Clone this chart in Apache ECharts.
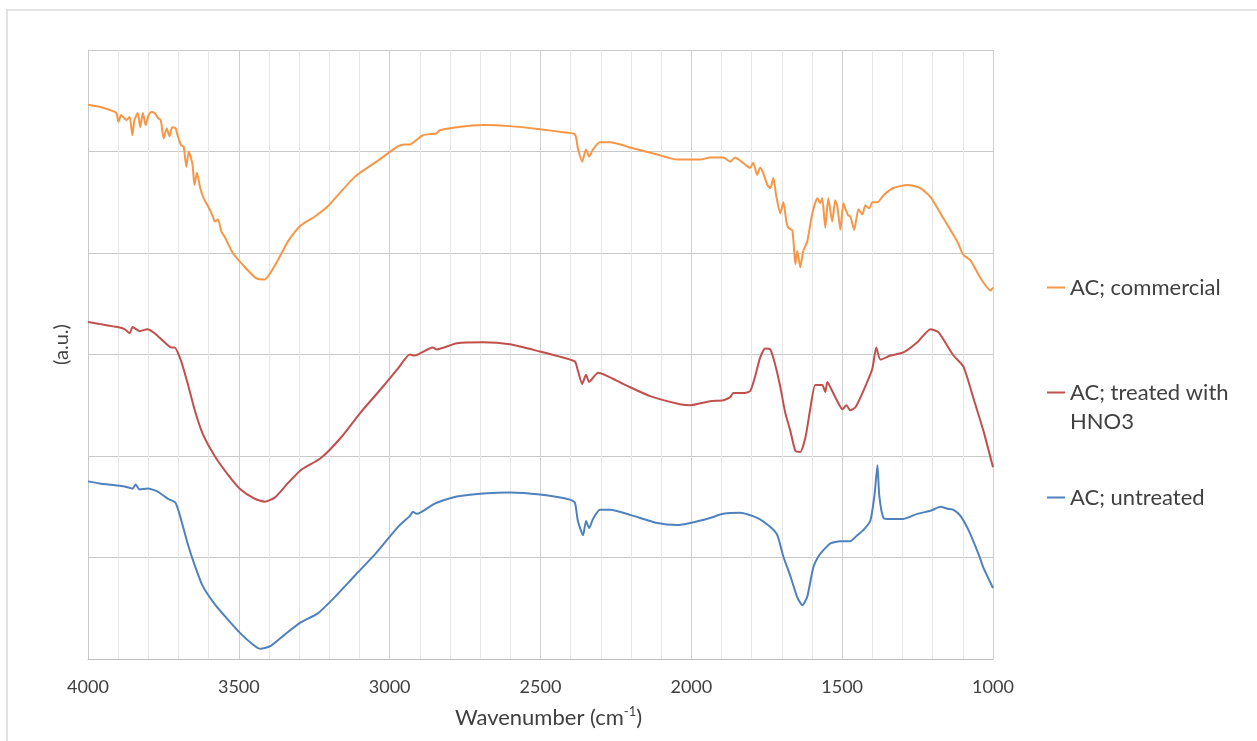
<!DOCTYPE html>
<html>
<head>
<meta charset="utf-8">
<title>FTIR spectra</title>
<script src="https://cdn.jsdelivr.net/npm/echarts/dist/echarts.min.js"></script>
<style>
  html, body { margin: 0; padding: 0; background: #fff; }
  #chart { width: 1257px; height: 741px; }
</style>
</head>
<body>
<div id="chart"></div>
<script>
// wavenumber (cm-1) / absorbance (a.u., stacked offsets)
var commercialWn = [4000,3962,3919,3906,3899,3890,3873,3862,3853,3846,3835,3827,3818,3809,3799,3790,3779,3768,3759,3749,
  3739,3730,3721,3710,3702,3691,3683,3674,3666,3654,3647,3639,3628,3617,3602,3586,3580,3569,3558,3547,
  3520,3486,3442,3414,3392,3365,3338,3295,3248,3205,3116,3039,2973,2950,2933,2917,2890,2844,2834,2777,
  2691,2601,2502,2425,2386,2376,2362,2349,2339,2326,2303,2269,2203,2113,2047,1971,1938,1894,1871,1855,
  1838,1821,1805,1795,1782,1772,1762,1748,1738,1728,1719,1705,1695,1685,1679,1665,1655,1649,1639,1629,
  1616,1599,1582,1573,1566,1556,1546,1533,1523,1516,1506,1496,1490,1480,1473,1460,1446,1433,1423,1410,
  1400,1383,1363,1330,1284,1241,1207,1164,1118,1098,1075,1041,1008,1000];
var commercialAbs = [546,544,540,538,529,536,531,534,516,531,538,524,538,526,536,539,538,533,531,513,
  523,515,524,523,515,506,505,485,500,488,467,479,464,454,446,436,431,433,421,416,
  400,388,375,374,382,396,411,427,436,446,475,491,505,507,507,510,516,518,521,524,
  526,525,522,519,517,503,490,502,495,502,509,509,504,497,492,492,494,494,490,494,
  491,487,484,489,477,484,479,467,464,474,457,439,450,431,425,422,389,402,386,402,
  411,439,454,449,454,425,454,431,452,446,423,449,444,437,436,423,443,438,447,444,
  450,450,457,464,467,464,455,434,411,398,393,375,363,366];

var hno3Wn = [4000,3962,3902,3879,3862,3852,3829,3803,3779,3746,3723,3713,3693,3670,3647,3620,3580,3537,3494,3448,
  3414,3381,3338,3295,3228,3162,3096,3029,2973,2933,2917,2857,2844,2777,2691,2601,2502,2425,2386,2376,
  2362,2349,2339,2309,2226,2137,2037,2004,1938,1894,1871,1861,1828,1805,1788,1772,1755,1738,1722,1705,
  1689,1672,1655,1639,1622,1606,1589,1566,1556,1549,1533,1516,1499,1486,1473,1456,1430,1400,1387,1373,
  1340,1297,1251,1207,1181,1131,1098,1065,1032,1000];
var hno3Abs = [332,330,327,325,321,327,323,325,321,312,307,307,295,272,246,222,200,182,167,158,
  155,159,173,186,198,218,243,266,286,300,299,307,305,311,312,310,303,297,293,284,
  271,280,273,282,271,259,251,250,254,255,258,262,262,264,279,297,306,305,290,268,
  243,225,205,204,218,246,270,270,263,273,264,254,246,250,245,248,264,286,307,295,
  299,302,312,325,322,299,288,257,225,189];

var untreatedWn = [4000,3962,3902,3879,3852,3842,3829,3803,3769,3736,3710,3693,3670,3647,3620,3580,3537,3494,3448,3428,
  3394,3348,3295,3238,3182,3116,3049,2973,2933,2923,2910,2857,2844,2777,2691,2601,2502,2402,2386,2376,
  2359,2349,2339,2326,2303,2269,2203,2113,2047,2004,1938,1894,1838,1782,1738,1715,1695,1672,1649,1632,
  1616,1596,1579,1563,1539,1506,1473,1450,1430,1407,1393,1383,1377,1363,1340,1297,1251,1207,1174,1151,
  1131,1108,1078,1045,1032,1000];
var untreatedAbs = [175,173,171,170,168,172,167,168,165,158,154,139,114,93,72,54,39,25,13,10,
  13,24,36,45,61,82,103,130,141,145,143,152,154,160,163,164,162,157,154,136,
  122,136,129,138,147,147,142,134,132,134,139,143,144,139,130,122,101,82,61,53,
  61,90,101,107,114,116,116,122,127,136,161,191,161,139,138,138,143,146,150,148,
  147,141,125,101,90,70];

var seriesNames = ['AC; commercial', 'AC; treated with HNO3', 'AC; untreated'];
var seriesColors = ['#f79646', '#c0504d', '#4f81bd'];
var xTicks = [4000, 3500, 3000, 2500, 2000, 1500, 1000];

function zip(xs, ys) {
  var out = [];
  for (var i = 0; i < xs.length; i++) out.push([xs[i], ys[i]]);
  return out;
}

var chart = echarts.init(document.getElementById('chart'));
var textColor = '#404040';
var font = 'Lato, "Liberation Sans", sans-serif';

var dataSets = [zip(commercialWn, commercialAbs), zip(hno3Wn, hno3Abs), zip(untreatedWn, untreatedAbs)];
var series = [];
for (var i = 0; i < seriesNames.length; i++) {
  series.push({
    name: seriesNames[i],
    type: 'line',
    data: dataSets[i],
    showSymbol: false,
    symbol: 'none',
    smooth: 0.2,
    lineStyle: { color: seriesColors[i], width: 2 },
    itemStyle: { color: seriesColors[i] }
  });
}

var option = {
  animation: false,
  backgroundColor: '#fff',
  textStyle: { fontFamily: font },
  graphic: [{
    type: 'rect',
    silent: true,
    shape: { x: 7, y: 10, width: 1262, height: 750 },
    style: { fill: 'none', stroke: '#d9d9d9', lineWidth: 1.5 }
  }],
  grid: { left: 88, right: 264, top: 50, bottom: 82 },
  legend: {
    orient: 'vertical',
    left: 1047,
    top: 273,
    padding: 0,
    itemGap: 47,
    itemWidth: 18,
    itemHeight: 2,
    icon: 'rect',
    data: seriesNames,
    textStyle: { fontSize: 22, color: textColor, lineHeight: 29, fontFamily: font },
    formatter: function (name) {
      // leading blank line keeps the icon level with the first text line
      return name === 'AC; treated with HNO3' ? '\nAC; treated with\nHNO3' : name;
    }
  },
  xAxis: {
    type: 'value',
    min: 1000,
    max: 4000,
    interval: 500,
    inverse: true,
    name: 'Wavenumber (cm{sup|-1})',
    nameLocation: 'middle',
    nameGap: 46,
    nameTextStyle: {
      fontSize: 22,
      color: textColor,
      fontFamily: font,
      lineHeight: 26,
      padding: [0, 0, 0, 16],
      rich: {
        sup: { fontSize: 13, lineHeight: 26, verticalAlign: 'top', color: textColor, fontFamily: font }
      }
    },
    axisLine: { show: true, lineStyle: { color: '#bfbfbf', width: 1 } },
    axisTick: { show: false },
    axisLabel: {
      color: textColor,
      fontSize: 18,
      margin: 19,
      formatter: function (v) { return xTicks.indexOf(v) >= 0 ? String(v) : ''; }
    },
    splitLine: { show: true, lineStyle: { color: '#d0d0d0', width: 1 } },
    minorTick: { show: false, splitNumber: 5 },
    minorSplitLine: { show: true, lineStyle: { color: '#e6e6e6', width: 1 } }
  },
  yAxis: {
    type: 'value',
    min: 0,
    max: 600,
    interval: 100,
    name: '(a.u.)',
    nameLocation: 'middle',
    nameGap: 16,
    nameTextStyle: { fontSize: 20, color: textColor, fontFamily: font, padding: [0, 0, 0, 20] },
    axisLine: { show: true, lineStyle: { color: '#c8c8c8', width: 1 } },
    axisTick: { show: false },
    axisLabel: { show: false },
    splitLine: { show: true, lineStyle: { color: '#c8c8c8', width: 1 } }
  },
  series: series
};

chart.setOption(option);
</script>
</body>
</html>
